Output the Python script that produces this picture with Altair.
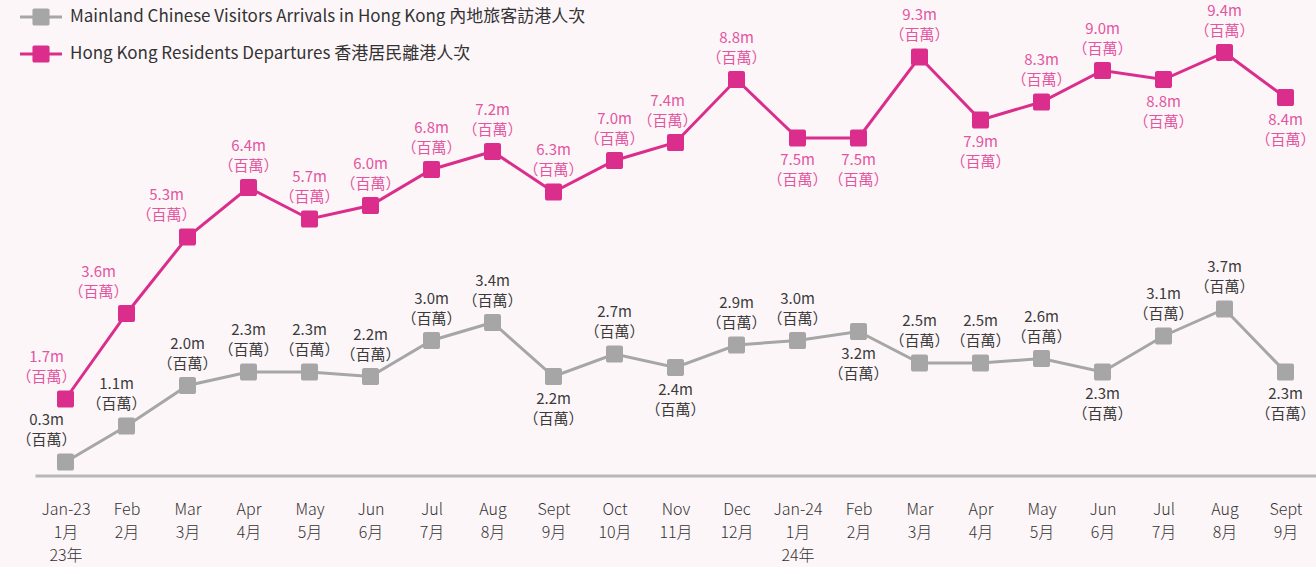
import altair as alt
import pandas as pd

# ---- data ----
months_en = ["Jan-23", "Feb", "Mar", "Apr", "May", "Jun", "Jul", "Aug", "Sept", "Oct", "Nov", "Dec",
             "Jan-24", "Feb", "Mar", "Apr", "May", "Jun", "Jul", "Aug", "Sept"]
months_zh = ["1月", "2月", "3月", "4月", "5月", "6月", "7月", "8月", "9月", "10月", "11月", "12月",
             "1月", "2月", "3月", "4月", "5月", "6月", "7月", "8月", "9月"]
years_zh = ["23年"] + [""] * 11 + ["24年"] + [""] * 8

mainland = [0.3, 1.1, 2.0, 2.3, 2.3, 2.2, 3.0, 3.4, 2.2, 2.7, 2.4, 2.9,
            3.0, 3.2, 2.5, 2.5, 2.6, 2.3, 3.1, 3.7, 2.3]
residents = [1.7, 3.6, 5.3, 6.4, 5.7, 6.0, 6.8, 7.2, 6.3, 7.0, 7.4, 8.8,
             7.5, 7.5, 9.3, 7.9, 8.3, 9.0, 8.8, 9.4, 8.4]

# label placement (above / below the point) and small horizontal nudges
mainland_pos = ["above"] * 21
for i in (8, 10, 13, 17, 20):
    mainland_pos[i] = "below"
residents_pos = ["above"] * 21
for i in (12, 13, 15, 18, 20):
    residents_pos[i] = "below"
mainland_dx = [-19, -10] + [0] * 19
residents_dx = [-19, -28, -21] + [0] * 7 + [-8] + [0] * 10

series_names = [
    "Mainland Chinese Visitors Arrivals in Hong Kong  內地旅客訪港人次",
    "Hong Kong Residents Departures  香港居民離港人次",
]
series_colors = ["#A6A6A6", "#DB2E8C"]
label_colors = ["#3A3A3A", "#E2559F"]

# ---- build table ----
keys = [f"{i:02d}|{e}|{z}|{y}" for i, (e, z, y) in enumerate(zip(months_en, months_zh, years_zh))]
rows = []
for s_idx, (vals, pos, dxs) in enumerate([(mainland, mainland_pos, mainland_dx),
                                          (residents, residents_pos, residents_dx)]):
    for i, v in enumerate(vals):
        rows.append({
            "key": keys[i],
            "series": series_names[s_idx],
            "value": v,
            "pos": pos[i],
            "dx": dxs[i],
            "label": f"{v:.1f}m\n（百萬）",
            "lcolor": label_colors[s_idx],
        })
df = pd.DataFrame(rows)

FONT = "Noto Sans CJK TC"

rounded_sq = ("M-0.75,-1H0.75A0.25,0.25 0 0 1 1,-0.75V0.75A0.25,0.25 0 0 1 0.75,1"
              "H-0.75A0.25,0.25 0 0 1 -1,0.75V-0.75A0.25,0.25 0 0 1 -0.75,-1Z")
legend_sym = ("M-1.4,-0.1H1.4V0.1H-1.4Z "
              "M-0.45,-0.57H0.45A0.12,0.12 0 0 1 0.57,-0.45V0.45A0.12,0.12 0 0 1 0.45,0.57"
              "H-0.45A0.12,0.12 0 0 1 -0.57,0.45V-0.45A0.12,0.12 0 0 1 -0.45,-0.57Z")

x_enc = alt.X(
    "key:O",
    sort=keys,
    scale=alt.Scale(type="point", padding=0.5),
    axis=alt.Axis(
        title=None,
        labelAngle=0,
        ticks=False,
        grid=False,
        domainColor="#B8B8B8",
        domainWidth=3,
        labelFont=FONT,
        labelFontSize=16,
        labelFontWeight=300,
        labelColor="#333333",
        labelPadding=26,
        labelLineHeight=23,
        labelBaseline="top",
        labelExpr="slice(split(datum.label, '|'), 1)",
    ),
)
y_enc = alt.Y("value:Q", scale=alt.Scale(domain=[0, 10]), axis=None)
color_enc = alt.Color(
    "series:N",
    scale=alt.Scale(domain=series_names, range=series_colors),
    legend=alt.Legend(
        title=None,
        orient="none",
        legendX=-9,
        legendY=-23.5,
        padding=0,
        symbolType=legend_sym,
        symbolSize=900,
        symbolStrokeWidth=0,
        symbolOpacity=1,
        labelFont=FONT,
        labelFontSize=17,
        labelColor="#333333",
        labelOffset=14,
        rowPadding=13,
        labelLimit=800,
    ),
)

base = alt.Chart(df)

lines = base.mark_line(strokeWidth=3).encode(x=x_enc, y=y_enc, color=color_enc)
points = base.mark_point(shape=rounded_sq, filled=True, size=289, opacity=1).encode(
    x=x_enc, y=y_enc, color=color_enc
)

text_common = dict(font=FONT, fontSize=15, lineBreak="\n", lineHeight=20, align="center")
labels_above = base.transform_filter(alt.datum.pos == "above").mark_text(
    baseline="bottom", dy=-34, **text_common
).encode(
    x=x_enc, y=y_enc,
    xOffset=alt.XOffset("dx:Q", scale=None),
    text="label:N",
    color=alt.Color("lcolor:N", scale=None),
)
labels_below = base.transform_filter(alt.datum.pos == "below").mark_text(
    baseline="top", dy=15, **text_common
).encode(
    x=x_enc, y=y_enc,
    xOffset=alt.XOffset("dx:Q", scale=None),
    text="label:N",
    color=alt.Color("lcolor:N", scale=None),
)

chart = alt.layer(lines, points, labels_above, labels_below).properties(
    width=1281,
    height=450,
    autosize=alt.AutoSizeParams(type="none"),
    padding={"left": 35, "top": 25.5, "right": 0, "bottom": 91.5},
    background="#FDF6F9",
).configure_view(stroke=None)

chart.save("out.html", embed_options={"renderer": "svg", "actions": False})
